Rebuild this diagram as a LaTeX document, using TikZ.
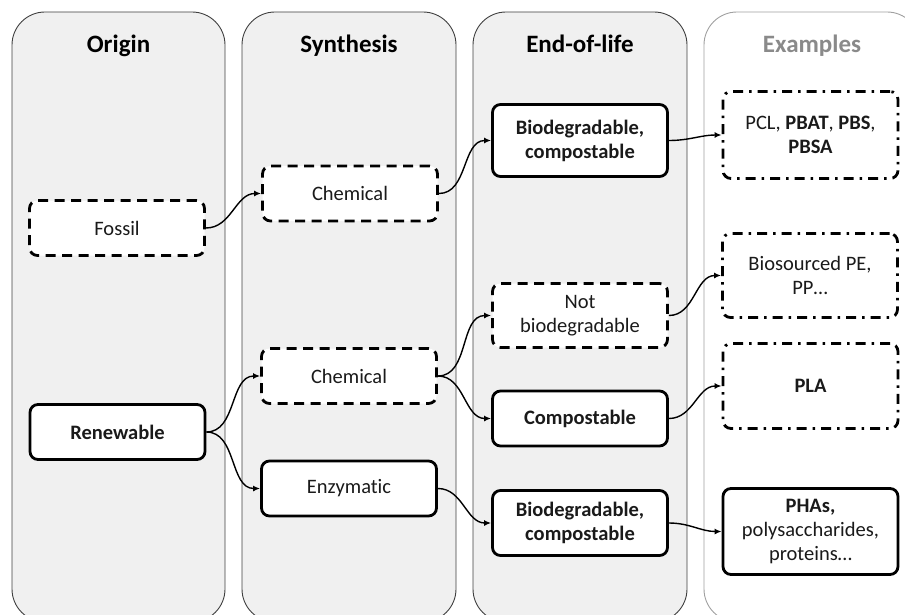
\documentclass[tikz,border=0pt]{standalone}
\usepackage{fontspec}
\setmainfont{Carlito}[Ligatures=NoCommon]
\usetikzlibrary{arrows.meta}
\definecolor{panelgray}{HTML}{F0F0F0}
\definecolor{panelline}{HTML}{404040}
\definecolor{exline}{HTML}{A0A0A0}
\definecolor{extitle}{HTML}{8A8A8A}
\definecolor{textc}{HTML}{1A1A1A}
\begin{document}
\begin{tikzpicture}[x=1pt,y=-1pt,
  panel/.style={draw=panelline, line width=0.9pt, fill=panelgray, rounded corners=33pt},
  expanel/.style={draw=exline, line width=0.9pt, fill=white, rounded corners=33pt},
  title/.style={font=\fontsize{25}{30}\selectfont\bfseries, text=black, anchor=base, inner sep=0pt},
  box/.style={draw=black, line width=2.8pt, fill=white, rounded corners=8pt,
    minimum width=175pt, minimum height=55pt, align=center, inner sep=2pt,
    font=\fontsize{20.5}{24}\selectfont, text=textc},
  dashbox/.style={box, dash pattern=on 10pt off 6.5pt},
  ddbox/.style={box, dash pattern=on 10pt off 6pt on 2.5pt off 6pt},
  arr/.style={line width=1.4pt, -{Latex[length=7pt,width=6pt]}}
]
\useasboundingbox (0,0) rectangle (905,615);
\begin{scope}
\clip (0,0) rectangle (905,615);
% panels
\draw[panel] (12,12) rectangle (225,622);
\draw[panel] (242,12) rectangle (456,622);
\draw[panel] (473,12) rectangle (687,622);
\draw[expanel] (704,12) rectangle (920,622);
\end{scope}
% titles
\node[title] (tOrigin) at (118.5,53) {Origin};
\node[title] (tSynth) at (349,53) {Synthesis};
\node[title] (tEnd) at (580,53) {End-of-life};
\node[title, text=extitle] (tEx) at (812,53) {Examples};
% origin
\node[dashbox] (fossil) at (117,228) {Fossil};
\node[box] (renew) at (117.5,432) {\bfseries Renewable};
% synthesis
\node[dashbox] (chemA) at (350,193.5) {Chemical};
\node[dashbox] (chemB) at (349,376) {Chemical};
\node[box] (enz) at (349,488.5) {Enzymatic};
% end of life
\node[box, minimum height=72pt] (biodegA) at (580,140.5) {\bfseries Biodegradable,\\\bfseries compostable};
\node[dashbox, minimum height=64pt] (notbio) at (580,315.5) {Not\\biodegradable};
\node[box] (compost) at (580,418.5) {\bfseries Compostable};
\node[box, minimum height=65pt] (biodegB) at (580,523) {\bfseries Biodegradable,\\\bfseries compostable};
% examples
\node[ddbox, minimum height=87pt] (pcl) at (810.5,135) {PCL, \textbf{PBAT}, \textbf{PBS},\\\textbf{PBSA}};
\node[ddbox, minimum height=84pt] (biopE) at (810,275.5) {Biosourced PE,\\PP\dots};
\node[ddbox, minimum height=85pt] (pla) at (810.5,386) {\bfseries PLA};
\node[box, minimum height=86pt] (pha) at (810.5,531.5) {\textbf{PHAs,}\\polysaccharides,\\proteins\dots};
% connectors
\draw[arr] (fossil.east) to[out=0,in=180] (chemA.west);
\draw[arr] (chemA.east) to[out=0,in=180] (biodegA.west);
\draw[arr] (biodegA.east) to[out=0,in=180] (pcl.west);
\draw[arr] (renew.east) to[out=0,in=180] (chemB.west);
\draw[arr] (renew.east) to[out=0,in=180] (enz.west);
\draw[arr] (chemB.east) to[out=0,in=180] (notbio.west);
\draw[arr] (chemB.east) to[out=0,in=180] (compost.west);
\draw[arr] (enz.east) to[out=0,in=180] (biodegB.west);
\draw[arr] (notbio.east) to[out=0,in=180] (biopE.west);
\draw[arr] (compost.east) to[out=0,in=180] (pla.west);
\draw[arr] (biodegB.east) to[out=0,in=180] (pha.west);
\end{tikzpicture}
\end{document}
